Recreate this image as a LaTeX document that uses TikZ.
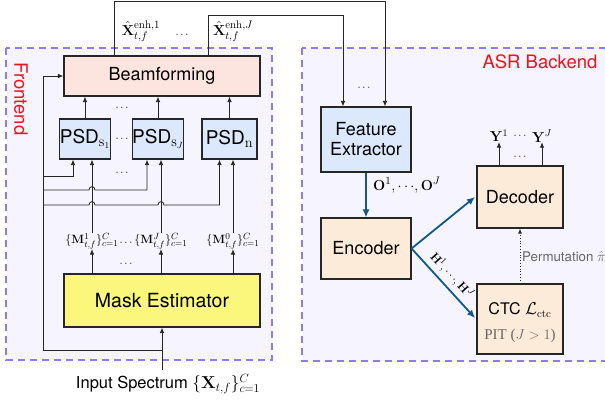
\documentclass[tikz,border=0pt]{standalone}
\usepackage[no-math]{fontspec}
\setmainfont{TeX Gyre Heros}
\newfontfamily\timesf{Liberation Serif}
\usetikzlibrary{arrows.meta,calc}
\definecolor{bgc}{HTML}{F6F4FE}
\definecolor{dashc}{HTML}{8C7BF2}
\definecolor{pinkc}{HTML}{FCE5DF}
\definecolor{bluef}{HTML}{DCE8FB}
\definecolor{orangef}{HTML}{FDEBD9}
\definecolor{yellowf}{HTML}{FAF77C}
\definecolor{arrowb}{HTML}{105A8A}
\definecolor{redt}{HTML}{F5101A}
\definecolor{grayt}{HTML}{666666}
\begin{document}
\begin{tikzpicture}[x=1pt,y=-1pt,
  region/.style={draw=dashc,fill=bgc,line width=1.1pt,dash pattern=on 7pt off 5pt},
  box/.style={draw=black!85,line width=1.1pt,inner sep=0pt,align=center},
  wire/.style={draw=black!85,line width=0.8pt},
  arr/.style={wire,-{Latex[length=5.5pt,width=4.5pt]}},
  barr/.style={draw=arrowb,line width=1.8pt,-{Latex[length=8pt,width=7pt]}},
  lbl/.style={inner sep=0pt},
  dotsn/.style={inner sep=0pt,font=\fontsize{11}{12}\selectfont},
  big/.style={font=\fontsize{18}{21}\selectfont}
]
\useasboundingbox (0,0) rectangle (605,405);

% regions
\draw[region] (6,48) rectangle (272,360);
\draw[region] (302,48) rectangle (615,361);
\node[lbl,text=redt,rotate=-90,font=\fontsize{18.5}{21}\selectfont] (fronttxt) at (21,99) {Frontend};
\node[lbl,text=redt,font=\fontsize{18.5}{21}\selectfont] (backtxt) at (540,62) {ASR Backend};

% frontend boxes
\node[box,fill=pinkc,minimum width=196pt,minimum height=40pt,big] (bf) at (162,76) {Beamforming};
\node[box,fill=bluef,minimum width=48pt,minimum height=40pt,font=\fontsize{19}{21}\selectfont] (ps1) at (85,139) {PSD$_{\mathrm{s}_1}$};
\node[box,fill=bluef,minimum width=48pt,minimum height=40pt,font=\fontsize{19}{21}\selectfont] (ps2) at (158,139) {PSD$_{\mathrm{s}_J}$};
\node[box,fill=bluef,minimum width=55pt,minimum height=40pt,font=\fontsize{19}{21}\selectfont] (ps3) at (229.5,139) {PSD$_\mathrm{n}$};
\node[box,fill=yellowf,minimum width=196pt,minimum height=53pt,font=\fontsize{19.5}{22}\selectfont] (me) at (162,300.5) {Mask Estimator};

% mask labels
\node[lbl,font=\fontsize{13}{14}\selectfont] (m1) at (92,241) {$\{\mathbf{M}^1_{t,f}\}_{c=1}^C$};
\node[lbl,font=\fontsize{13}{14}\selectfont] (mJ) at (161,241) {$\{\mathbf{M}^J_{t,f}\}_{c=1}^C$};
\node[lbl,font=\fontsize{13}{14}\selectfont] (m0) at (233,241) {$\{\mathbf{M}^0_{t,f}\}_{c=1}^C$};
\node[dotsn] (d1) at (126,243) {$\cdots$};
\node[dotsn] (d2) at (126,264) {$\cdots$};
\node[dotsn] (d3) at (122,173) {$\cdots$};
\node[dotsn] (d4) at (122,139) {$\cdots$};
\node[dotsn] (d5) at (122,108) {$\cdots$};

% mask estimator -> labels
\draw[arr] (me.north -| m1) -- (m1.south);
\draw[arr] (me.north -| mJ) -- (mJ.south);
\draw[arr] (me.north -| m0) -- (m0.south);
% labels -> PSD
\draw[arr] (m1.north) -- (ps1.south -| m1);
\draw[arr] (mJ.north) -- (ps2.south -| mJ);
\draw[arr] (m0.north) -- (ps3.south -| m0);

% PSD -> beamforming
\draw[arr] (ps1.north) -- (bf.south -| ps1.north);
\draw[arr] (ps2.north) -- (bf.south -| ps2.north);
\draw[arr] (ps3.north) -- (bf.south -| ps3.north);

% input
\node[lbl,font=\fontsize{16.5}{18}\selectfont,anchor=north] (inp) at (168,374) {Input Spectrum $\{\mathbf{X}_{t,f}\}_{c=1}^C$};
\coordinate (inb) at (162,370);
\coordinate (bj) at (162,350);
\coordinate (bus) at (43,0);
\draw[arr] (inb) -- (me.south -| inb);
\draw[arr] (bj) -| (bf.west -| bus) -- (bf.west);
% branches
\coordinate (r1) at (43,176);
\coordinate (r2) at (43,190);
\coordinate (r3) at (43,205);
\draw[arr] (r1) -| ([xshift=-12pt]ps1.south);
\draw[arr] (r2) -- (89,190) .. controls (89,185.5) and (95,185.5) .. (95,190) -| ([xshift=-11pt]ps2.south);
\draw[arr] (r3) -- (89,205) .. controls (89,200.5) and (95,200.5) .. (95,205)
   -- (158,205) .. controls (158,200.5) and (164,200.5) .. (164,205) -| ([xshift=-10pt]ps3.south);

% outputs of beamforming
\coordinate (o1) at (114,1);
\coordinate (o2) at (208,15);
\coordinate (f1) at (385,0);
\coordinate (f2) at (343,0);
\node[lbl,font=\fontsize{15}{16}\selectfont] (x1) at (141,31) {$\hat{\mathbf{X}}^{\mathrm{enh},1}_{t,f}$};
\node[lbl,font=\fontsize{15}{16}\selectfont] (xJ) at (233,31) {$\hat{\mathbf{X}}^{\mathrm{enh},J}_{t,f}$};
\node[dotsn] (d6) at (182,35) {$\cdots$};

% backend boxes
\node[box,fill=bluef,minimum width=90pt,minimum height=65pt,big] (fe) at (366,139.5) {Feature\\[-1pt]Extractor};
\node[box,fill=orangef,minimum width=90pt,minimum height=61pt,big] (enc) at (366,248.5) {Encoder};
\node[box,fill=orangef,minimum width=86pt,minimum height=62pt,big] (dec) at (520,197) {Decoder};
\node[box,fill=orangef,minimum width=86pt,minimum height=70pt] (ctc) at (520,319) {};
\node[lbl,font=\fontsize{16}{18}\selectfont] (ctct) at (520,310) {CTC $\mathcal{L}_{\mathrm{ctc}}$};
\node[lbl,font=\fontsize{15}{17}\selectfont\timesf,text=grayt] (pit) at (520,336) {PIT ($J>1$)};

\draw[arr] (bf.north -| o1) -- (o1) -| (fe.north -| f1);
\draw[arr] (bf.north -| o2) -- (o2) -| (fe.north -| f2);
\node[dotsn] (d7) at (364,88) {$\cdots$};

\draw[barr] (fe.south) -- (enc.north) node[pos=0.28,right=3pt,text=black,font=\fontsize{15}{16}\selectfont] {$\mathbf{O}^1,\cdots\!,\mathbf{O}^J$};
\coordinate (decin) at (475,197);
\coordinate (ctcin) at (475,318);
\draw[barr] (enc.east) -- (decin);
\draw[barr] (enc.east) -- (ctcin) node[midway,sloped,above=1pt,text=black,font=\fontsize{13}{14}\selectfont] {$\mathbf{H}^1,\cdots\!,\mathbf{H}^J$};

\draw[wire,dotted,line width=1pt,-{Latex[length=5pt,width=4pt]}] (ctc.north) -- (dec.south);
\node[lbl,anchor=west,text=grayt,font=\fontsize{13.3}{15}\selectfont] (perm) at (522,257) {Permutation $\hat{\pi}$};

% decoder outputs
\node[lbl,font=\fontsize{14}{16}\selectfont] (y1) at (499,136) {$\mathbf{Y}^1$};
\node[lbl,font=\fontsize{14}{16}\selectfont] (yJ) at (542,136) {$\mathbf{Y}^J$};
\node[dotsn] (d8) at (520,136) {$\cdots$};
\node[dotsn] (d9) at (520,157) {$\cdots$};
\draw[arr] (dec.north -| y1) -- (y1.south);
\draw[arr] (dec.north -| yJ) -- (yJ.south);
\end{tikzpicture}
\end{document}
